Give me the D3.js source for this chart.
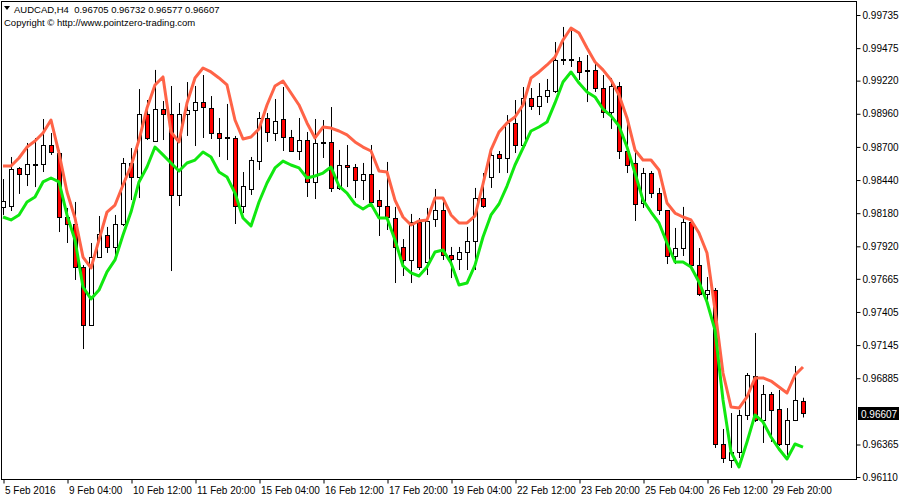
<!DOCTYPE html>
<html>
<head>
<meta charset="utf-8">
<script src="https://cdn.jsdelivr.net/npm/d3@7"></script>
<style>
  html, body { margin: 0; padding: 0; background: #fff; }
  svg { display: block; }
  text { font-family: "Liberation Sans", Arial, sans-serif; }
</style>
</head>
<body>
<svg id="chart" width="900" height="500"></svg>
<script>
// ---- Data (AUDCAD, H4) ----
const symbol = "AUDCAD,H4";
const copyright = "Copyright \u00A9 http://www.pointzero-trading.com";

const openP = [0.98229,0.98236,0.98535,0.98488,0.98558,0.98566,0.98715,0.98652,0.98150,0.98095,
0.97758,0.97303,0.97836,0.98009,0.97915,0.98095,0.98574,0.98464,0.98958,0.98746,
0.98997,0.98958,0.98323,0.98958,0.98990,0.99052,0.99005,0.98809,0.98770,0.98770,
0.98236,0.98370,0.98589,0.98927,0.98809,0.98919,0.98778,0.98668,0.98754,0.98425,
0.98731,0.98739,0.98378,0.98558,0.98542,0.98440,0.98488,0.98283,0.98236,0.98142,
0.97915,0.97813,0.98111,0.97797,0.98134,0.98205,0.97852,0.97821,0.97875,0.97962,
0.98299,0.98464,0.98645,0.98613,0.98888,0.98715,0.99084,0.99021,0.99099,0.99139,
0.99390,0.99390,0.99374,0.99304,0.99304,0.99162,0.98974,0.99178,0.98668,0.98574,
0.98260,0.98495,0.98338,0.98205,0.97844,0.97907,0.98111,0.97773,0.97546,0.97577,
0.96369,0.96243,0.96306,0.96597,0.96902,0.96557,0.96761,0.96644,0.96369,0.96557,
0.96705];
const highP = [0.98448,0.98621,0.98542,0.98731,0.98770,0.98919,0.98809,0.98676,0.98221,0.98268,
0.97773,0.97946,0.98158,0.98072,0.98166,0.98613,0.98691,0.99154,0.99068,0.99304,
0.99060,0.99178,0.99045,0.99209,0.99178,0.99264,0.99099,0.98927,0.99037,0.98786,
0.98503,0.98621,0.98974,0.98966,0.99076,0.99170,0.98833,0.98927,0.98817,0.98919,
0.98911,0.99013,0.98676,0.98715,0.98566,0.98574,0.98715,0.98362,0.98582,0.98229,
0.97977,0.98174,0.98142,0.98221,0.98370,0.98268,0.97915,0.97915,0.98072,0.98378,
0.98495,0.98660,0.98668,0.98950,0.99068,0.99170,0.99162,0.99201,0.99233,0.99523,
0.99641,0.99617,0.99405,0.99421,0.99358,0.99264,0.99241,0.99209,0.98895,0.98660,
0.98535,0.98511,0.98378,0.98205,0.98064,0.98229,0.98111,0.97907,0.97679,0.97593,
0.96487,0.96612,0.96636,0.96926,0.97240,0.96832,0.96777,0.96793,0.96651,0.96981,
0.96732];
const lowP = [0.98166,0.98197,0.98331,0.98393,0.98385,0.98503,0.98637,0.98032,0.97946,0.97656,
0.97114,0.97295,0.97828,0.97868,0.97852,0.98079,0.98283,0.98299,0.98754,0.98739,
0.98754,0.97726,0.98236,0.98786,0.98707,0.98770,0.98762,0.98621,0.98597,0.98095,
0.98181,0.98323,0.98519,0.98739,0.98746,0.98668,0.98660,0.98597,0.98307,0.98291,
0.98613,0.98346,0.98362,0.98385,0.98299,0.98283,0.98260,0.98001,0.98048,0.97632,
0.97687,0.97632,0.97734,0.97695,0.98072,0.97813,0.97671,0.97734,0.97734,0.97734,
0.98221,0.98378,0.98495,0.98495,0.98652,0.98699,0.98990,0.98950,0.99045,0.99123,
0.99343,0.99327,0.99225,0.99052,0.99131,0.98927,0.98841,0.98605,0.98495,0.98119,
0.98221,0.98299,0.98166,0.97781,0.97781,0.97844,0.97773,0.97530,0.97499,0.96338,
0.96220,0.96181,0.96259,0.96557,0.96542,0.96377,0.96385,0.96353,0.96283,0.96549,
0.96577];
const closeP = [0.98276,0.98527,0.98488,0.98566,0.98566,0.98715,0.98660,0.98150,0.98095,0.97758,
0.97303,0.97836,0.98017,0.97915,0.98095,0.98574,0.98464,0.98958,0.98770,0.98997,
0.98958,0.98323,0.98958,0.98990,0.99052,0.99013,0.98809,0.98770,0.98778,0.98236,
0.98393,0.98597,0.98927,0.98817,0.98903,0.98778,0.98668,0.98754,0.98425,0.98731,
0.98739,0.98378,0.98558,0.98542,0.98440,0.98488,0.98268,0.98236,0.98150,0.97915,
0.97813,0.98111,0.97758,0.98119,0.98205,0.97852,0.97821,0.97875,0.97962,0.98299,
0.98236,0.98637,0.98613,0.98888,0.98715,0.99084,0.99021,0.99099,0.99147,0.99382,
0.99388,0.99382,0.99288,0.99302,0.99162,0.98974,0.99178,0.98668,0.98558,0.98252,
0.98495,0.98338,0.98205,0.97844,0.97907,0.98111,0.97773,0.97546,0.97577,0.96369,
0.96259,0.96306,0.96597,0.96910,0.96557,0.96761,0.96636,0.96369,0.96557,0.96714,
0.96607];

// upper (tomato) and lower (lime) indicator lines
const upperLine = [0.98550,0.98550,0.98613,0.98699,0.98746,0.98809,0.98911,0.98652,0.98346,0.98142,
0.97836,0.97750,0.97970,0.98189,0.98244,0.98401,0.98550,0.98754,0.99005,0.99186,
0.99249,0.98817,0.98739,0.99045,0.99241,0.99319,0.99288,0.99241,0.99186,0.98911,
0.98762,0.98778,0.98841,0.99029,0.99178,0.99217,0.99123,0.99029,0.98888,0.98770,
0.98856,0.98848,0.98825,0.98794,0.98739,0.98699,0.98668,0.98511,0.98503,0.98283,
0.98150,0.98087,0.98119,0.98127,0.98299,0.98299,0.98166,0.98103,0.98103,0.98158,
0.98409,0.98676,0.98817,0.98888,0.98935,0.99029,0.99241,0.99288,0.99343,0.99405,
0.99539,0.99633,0.99594,0.99476,0.99366,0.99304,0.99225,0.99107,0.98927,0.98676,
0.98597,0.98597,0.98519,0.98260,0.98181,0.98150,0.98127,0.98025,0.97868,0.97420,
0.96926,0.96659,0.96651,0.96738,0.96887,0.96887,0.96863,0.96816,0.96769,0.96910,
0.96973];
const lowerLine = [0.98150,0.98127,0.98166,0.98268,0.98307,0.98425,0.98456,0.98425,0.98166,0.97970,
0.97601,0.97507,0.97577,0.97719,0.97813,0.98009,0.98189,0.98425,0.98542,0.98699,
0.98637,0.98574,0.98511,0.98574,0.98597,0.98660,0.98621,0.98503,0.98464,0.98338,
0.98142,0.98080,0.98268,0.98417,0.98535,0.98589,0.98558,0.98535,0.98456,0.98472,
0.98495,0.98542,0.98393,0.98338,0.98252,0.98213,0.98252,0.98142,0.98142,0.97970,
0.97766,0.97711,0.97687,0.97758,0.97875,0.97891,0.97789,0.97617,0.97632,0.97773,
0.97993,0.98166,0.98252,0.98393,0.98558,0.98691,0.98825,0.98856,0.98895,0.99045,
0.99209,0.99288,0.99201,0.99131,0.99092,0.98997,0.98943,0.98864,0.98699,0.98495,
0.98283,0.98189,0.98103,0.97946,0.97797,0.97797,0.97758,0.97640,0.97483,0.97263,
0.96714,0.96306,0.96189,0.96385,0.96597,0.96542,0.96424,0.96330,0.96251,0.96369,
0.96345];

const priceTicks = [0.99735,0.99475,0.99220,0.98960,0.98700,0.98440,0.98180,0.97920,0.97665,0.97405,0.97145,0.96885,0.96365,0.96110];
const timeTickIndex = [0,8,16,24,32,40,48,56,64,72,80,88,96];
const timeTickLabels = ["5 Feb 2016","9 Feb 04:00","10 Feb 12:00","11 Feb 20:00","15 Feb 04:00","16 Feb 12:00","17 Feb 20:00","19 Feb 04:00","22 Feb 12:00","23 Feb 20:00","25 Feb 04:00","26 Feb 12:00","29 Feb 20:00"];

// ---- Layout ----
const frame = {left: 1.5, top: 1.5, right: 856.5, bottom: 479.5};
const svg = d3.select("#chart");
const n = openP.length;
const bars = d3.range(n).map(i => ({i, o: openP[i], h: highP[i], l: lowP[i], c: closeP[i]}));

const x = d3.scaleLinear().domain([0, 100]).range([3, 803]);
const y = d3.scaleLinear().domain([0.96110, 0.99735]).range([477, 15]);
const fmt = d3.format(".5f");

// frame
svg.append("rect")
  .attr("x", frame.left).attr("y", frame.top)
  .attr("width", frame.right - frame.left).attr("height", frame.bottom - frame.top)
  .attr("fill", "#fff").attr("stroke", "#000").attr("stroke-width", 1);

svg.append("clipPath").attr("id", "plotclip").append("rect")
  .attr("x", 2).attr("y", 2).attr("width", frame.right - 2.5).attr("height", frame.bottom - 2.5);

const plot = svg.append("g").attr("clip-path", "url(#plotclip)");

// wicks
plot.append("g").selectAll("line").data(bars).join("line")
  .attr("x1", d => Math.round(x(d.i)) + 0.5).attr("x2", d => Math.round(x(d.i)) + 0.5)
  .attr("y1", d => y(d.h)).attr("y2", d => y(d.l))
  .attr("stroke", "#000").attr("stroke-width", 1);

// bodies
plot.append("g").selectAll("rect").data(bars).join("rect")
  .attr("x", d => Math.round(x(d.i)) - 1.5)
  .attr("y", d => Math.round(y(Math.max(d.o, d.c))) + 0.5)
  .attr("width", 4)
  .attr("height", d => Math.max(1, Math.round(y(Math.min(d.o, d.c)) - y(Math.max(d.o, d.c)))))
  .attr("fill", d => d.c < d.o ? "#ff0000" : "#ffffff")
  .attr("stroke", "#000").attr("stroke-width", 1);

// indicator lines
const line = d3.line().x((d, i) => x(i)).y(d => y(d));
plot.append("path").datum(upperLine).attr("d", line)
  .attr("fill", "none").attr("stroke", "#ff6347").attr("stroke-width", 3).attr("stroke-linejoin", "round");
plot.append("path").datum(lowerLine).attr("d", line)
  .attr("fill", "none").attr("stroke", "#10e810").attr("stroke-width", 3).attr("stroke-linejoin", "round");

// price axis (right)
const yAxis = d3.axisRight(y).tickValues(priceTicks).tickFormat(fmt).tickSize(4).tickPadding(2);
const gy = svg.append("g").attr("transform", `translate(${frame.right},0)`).call(yAxis);
gy.select(".domain").remove();
gy.selectAll("text").attr("font-family", "Liberation Sans, Arial, sans-serif").attr("font-size", 10).attr("fill", "#000");
gy.selectAll("line").attr("stroke", "#000");

// current price marker
const last = closeP[n - 1];
const cy = Math.round(y(last));
svg.append("rect").attr("x", 858).attr("y", cy - 7).attr("width", 41).attr("height", 13).attr("fill", "#000");
svg.append("text").attr("x", 861).attr("y", cy + 3.5).attr("font-size", 10).attr("fill", "#fff").text(fmt(last));

// time axis (bottom)
const xAxis = d3.axisBottom(x).tickValues(timeTickIndex)
  .tickFormat((d, i) => timeTickLabels[i]).tickSize(4).tickPadding(3);
const gx = svg.append("g").attr("transform", `translate(0.5,${frame.bottom})`).call(xAxis);
gx.select(".domain").remove();
gx.selectAll("text").attr("text-anchor", "start").attr("dx", 1).attr("font-size", 10)
  .attr("font-family", "Liberation Sans, Arial, sans-serif").attr("fill", "#000");
gx.selectAll("line").attr("stroke", "#000");

// header
const hdr = svg.append("g");
hdr.append("rect").attr("x", 2).attr("y", 2).attr("width", 220).attr("height", 26).attr("fill", "#fff");
hdr.append("path").attr("d", "M4,6 L10,6 L7,10 Z").attr("fill", "#000");
hdr.append("text").attr("x", 14).attr("y", 13).attr("font-size", 9.5).attr("fill", "#000")
  .style("white-space", "pre")
  .text(`${symbol}  ${fmt(openP[n-1])} ${fmt(highP[n-1])} ${fmt(lowP[n-1])} ${fmt(closeP[n-1])}`);
hdr.append("text").attr("x", 4).attr("y", 26).attr("font-size", 9.5).attr("fill", "#000").text(copyright);
</script>
</body>
</html>
